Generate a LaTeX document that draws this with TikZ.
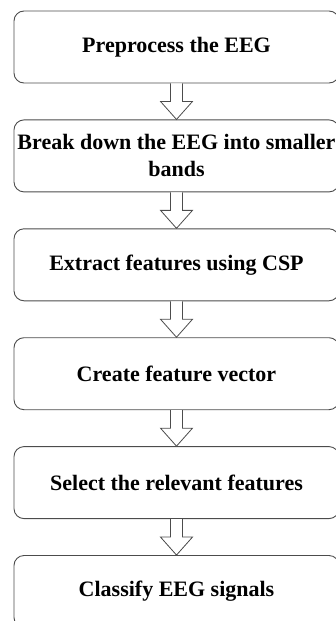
\documentclass[tikz,border=0pt]{standalone}
\usepackage{fontspec}
\setmainfont{Liberation Serif}
\usetikzlibrary{positioning,calc}

\begin{document}
\begin{tikzpicture}[x=1pt,y=1pt,node distance=36pt]
  \tikzstyle{process} = [rectangle, rounded corners=10pt, minimum width=325pt, minimum height=72pt, align=center, draw=black!70, line width=0.9pt, font=\bfseries\fontsize{22}{27}\selectfont]
  \tikzstyle{flow} = [draw=black!70, fill=white, line width=0.8pt, line join=miter]

  \useasboundingbox (0,0) rectangle (335,-621);

  \node (prep) [process] at (176.5,-47) {Preprocess the EEG};
  \node (bands) [process, below=of prep] {Break down the EEG into smaller\\bands};
  \node (csp) [process, below=of bands] {Extract features using CSP};
  \node (fvec) [process, below=of csp] {Create feature vector};
  \node (select) [process, below=of fvec] {Select the relevant features};
  \node (classify) [process, below=of select] {Classify EEG signals};

  % hollow block arrows: shaft, then head down to the next box
  \foreach \a/\b in {prep/bands, bands/csp, csp/fvec, fvec/select, select/classify}
    \draw [flow] ($(\a.south)+(-6,0)$) -- ($(\b.north)+(-6,18)$) -- ($(\b.north)+(-16,18)$)
      -- (\b.north) -- ($(\b.north)+(16,18)$) -- ($(\b.north)+(6,18)$) -- ($(\a.south)+(6,0)$);
\end{tikzpicture}
\end{document}
